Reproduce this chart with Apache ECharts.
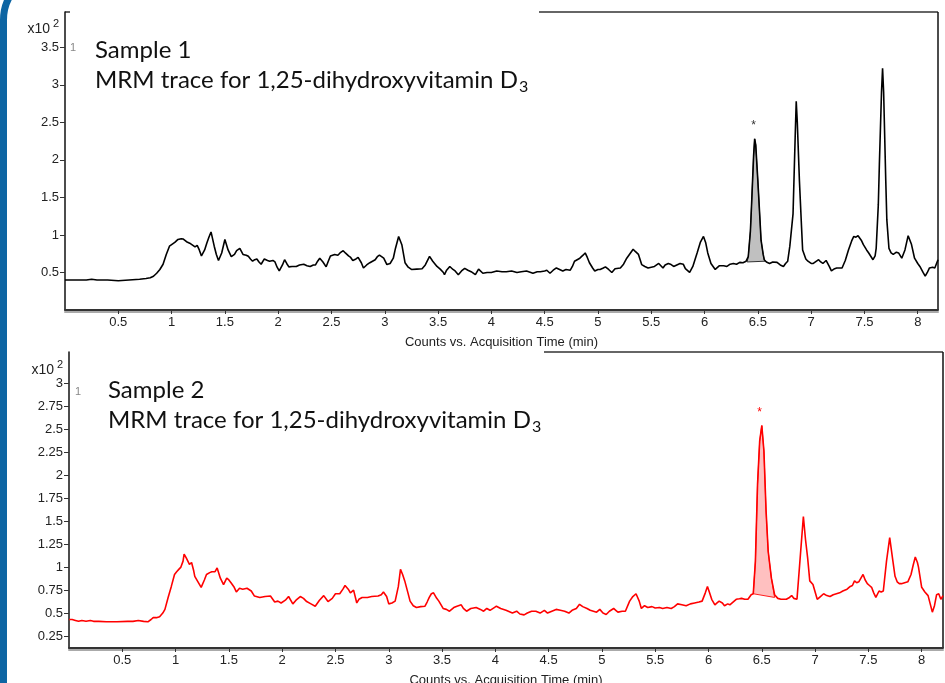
<!DOCTYPE html>
<html><head><meta charset="utf-8">
<script src="https://cdn.jsdelivr.net/npm/echarts@6/dist/echarts.min.js"></script>
<style>html,body{margin:0;padding:0;background:#fff;overflow:hidden}#c{width:945px;height:683px}</style>
</head><body><div id="c"></div>
<script>
// ---------- data ----------
const xTicks = [0.5,1,1.5,2,2.5,3,3.5,4,4.5,5,5.5,6,6.5,7,7.5,8];
const yTicksTop = [0.5,1,1.5,2,2.5,3,3.5];
const yTicksBottom = [0.25,0.5,0.75,1,1.25,1.5,1.75,2,2.25,2.5,2.75,3];

const timeTop = [0.00,0.10,0.20,0.25,0.30,0.40,0.50,0.60,0.70,0.76,0.80,0.83,0.86,0.89,0.92,0.95,0.98,1.01,1.03,1.06,1.09,1.11,1.14,1.17,1.19,1.22,1.24,1.26,1.28,1.31,1.33,1.35,1.37,1.40,1.42,1.44,1.47,1.50,1.53,1.56,1.59,1.61,1.64,1.67,1.70,1.72,1.74,1.76,1.78,1.80,1.82,1.84,1.87,1.90,1.92,1.95,1.97,1.99,2.01,2.04,2.06,2.08,2.10,2.13,2.17,2.20,2.24,2.27,2.30,2.33,2.35,2.37,2.39,2.42,2.45,2.47,2.49,2.51,2.53,2.56,2.58,2.61,2.63,2.66,2.68,2.70,2.73,2.75,2.78,2.80,2.83,2.86,2.91,2.93,2.95,2.97,2.99,3.02,3.05,3.08,3.10,3.13,3.16,3.19,3.22,3.25,3.30,3.35,3.38,3.42,3.45,3.49,3.52,3.55,3.56,3.58,3.61,3.64,3.66,3.69,3.72,3.75,3.78,3.81,3.85,3.88,3.92,3.96,4.00,4.05,4.10,4.14,4.19,4.24,4.28,4.33,4.39,4.43,4.46,4.50,4.52,4.55,4.58,4.61,4.64,4.67,4.70,4.74,4.76,4.78,4.83,4.86,4.88,4.90,4.92,4.95,4.97,5.00,5.02,5.05,5.07,5.10,5.13,5.16,5.21,5.24,5.27,5.30,5.33,5.35,5.38,5.41,5.44,5.47,5.50,5.53,5.57,5.61,5.63,5.66,5.68,5.71,5.74,5.77,5.80,5.82,5.86,5.89,5.93,5.96,5.99,6.01,6.03,6.06,6.10,6.14,6.18,6.21,6.24,6.27,6.30,6.33,6.36,6.39,6.41,6.43,6.44,6.46,6.47,6.48,6.50,6.52,6.53,6.55,6.56,6.58,6.61,6.64,6.68,6.71,6.74,6.76,6.78,6.80,6.83,6.85,6.86,6.87,6.89,6.91,6.92,6.95,6.97,7.00,7.02,7.05,7.07,7.09,7.11,7.14,7.17,7.19,7.22,7.24,7.29,7.32,7.35,7.38,7.40,7.42,7.44,7.47,7.49,7.52,7.54,7.58,7.60,7.61,7.63,7.64,7.66,7.67,7.68,7.70,7.71,7.73,7.75,7.77,7.80,7.82,7.85,7.88,7.91,7.94,7.97,8.00,8.02,8.05,8.07,8.09,8.11,8.14,8.16,8.19];
const countsTop = [0.40,0.40,0.40,0.41,0.40,0.40,0.39,0.40,0.41,0.42,0.43,0.45,0.49,0.54,0.61,0.74,0.85,0.88,0.90,0.94,0.95,0.945,0.91,0.89,0.87,0.84,0.86,0.80,0.72,0.80,0.89,0.97,1.04,0.85,0.74,0.66,0.76,0.94,0.80,0.71,0.74,0.79,0.82,0.74,0.73,0.715,0.68,0.65,0.67,0.68,0.64,0.61,0.68,0.66,0.65,0.66,0.64,0.57,0.52,0.60,0.67,0.62,0.575,0.58,0.58,0.60,0.61,0.59,0.58,0.60,0.60,0.65,0.69,0.64,0.575,0.65,0.72,0.73,0.74,0.73,0.76,0.79,0.76,0.72,0.70,0.66,0.68,0.70,0.63,0.56,0.60,0.63,0.67,0.71,0.73,0.71,0.69,0.605,0.62,0.69,0.82,0.98,0.87,0.63,0.57,0.54,0.545,0.55,0.60,0.715,0.65,0.58,0.545,0.50,0.47,0.53,0.58,0.54,0.52,0.47,0.52,0.555,0.53,0.51,0.47,0.545,0.49,0.50,0.50,0.52,0.51,0.51,0.52,0.50,0.51,0.52,0.49,0.51,0.51,0.52,0.53,0.49,0.53,0.56,0.54,0.52,0.54,0.53,0.58,0.65,0.69,0.73,0.76,0.70,0.63,0.56,0.52,0.54,0.54,0.56,0.575,0.54,0.50,0.55,0.56,0.61,0.69,0.75,0.81,0.78,0.74,0.605,0.58,0.56,0.57,0.58,0.62,0.56,0.60,0.62,0.61,0.58,0.60,0.62,0.61,0.55,0.50,0.58,0.76,0.90,0.98,0.90,0.76,0.62,0.54,0.59,0.59,0.58,0.61,0.62,0.61,0.635,0.63,0.65,0.71,1.05,1.37,2.05,2.28,2.20,1.72,1.20,0.93,0.74,0.67,0.64,0.62,0.64,0.635,0.60,0.58,0.62,0.65,0.85,1.28,2.30,2.78,2.50,1.72,1.10,0.80,0.68,0.65,0.62,0.62,0.65,0.67,0.64,0.62,0.66,0.58,0.52,0.55,0.56,0.56,0.66,0.80,0.92,0.98,0.97,0.99,0.93,0.87,0.80,0.76,0.67,0.72,0.82,1.40,1.94,2.90,3.22,2.90,1.72,1.20,0.82,0.76,0.74,0.77,0.76,0.69,0.80,0.99,0.88,0.69,0.62,0.58,0.50,0.45,0.50,0.56,0.57,0.56,0.67];

const timeBottom = [0.00,0.03,0.06,0.09,0.12,0.16,0.20,0.23,0.28,0.35,0.45,0.55,0.60,0.65,0.70,0.74,0.77,0.79,0.82,0.85,0.88,0.90,0.93,0.96,0.99,1.01,1.03,1.05,1.07,1.08,1.10,1.11,1.13,1.15,1.17,1.18,1.21,1.24,1.27,1.29,1.32,1.34,1.37,1.39,1.42,1.45,1.48,1.50,1.52,1.55,1.57,1.60,1.63,1.67,1.71,1.74,1.79,1.84,1.89,1.93,1.96,1.99,2.03,2.06,2.10,2.13,2.17,2.20,2.23,2.27,2.31,2.35,2.39,2.43,2.47,2.50,2.54,2.57,2.59,2.62,2.64,2.67,2.70,2.72,2.75,2.80,2.84,2.90,2.93,2.95,2.98,3.00,3.03,3.06,3.09,3.11,3.13,3.15,3.18,3.20,3.23,3.26,3.30,3.34,3.36,3.38,3.40,3.42,3.45,3.47,3.51,3.54,3.57,3.61,3.64,3.68,3.70,3.73,3.77,3.82,3.86,3.89,3.92,3.95,3.99,4.01,4.05,4.10,4.16,4.20,4.23,4.27,4.30,4.34,4.38,4.42,4.46,4.49,4.53,4.57,4.61,4.65,4.69,4.72,4.76,4.79,4.82,4.86,4.89,4.92,4.95,4.98,5.01,5.04,5.07,5.11,5.13,5.15,5.19,5.22,5.26,5.29,5.32,5.35,5.37,5.40,5.43,5.47,5.50,5.54,5.57,5.61,5.65,5.68,5.71,5.75,5.79,5.83,5.87,5.91,5.94,5.97,5.99,6.01,6.03,6.06,6.08,6.10,6.13,6.15,6.18,6.20,6.23,6.26,6.29,6.31,6.34,6.37,6.40,6.42,6.44,6.46,6.48,6.50,6.52,6.54,6.56,6.59,6.62,6.65,6.68,6.73,6.76,6.78,6.80,6.83,6.86,6.89,6.91,6.93,6.95,6.98,7.02,7.05,7.08,7.11,7.14,7.17,7.20,7.23,7.26,7.30,7.33,7.35,7.37,7.39,7.41,7.43,7.45,7.47,7.49,7.51,7.53,7.55,7.57,7.60,7.62,7.64,7.67,7.70,7.73,7.75,7.77,7.79,7.81,7.84,7.87,7.90,7.92,7.94,7.96,7.97,8.00,8.03,8.06,8.08,8.10,8.12,8.14,8.16,8.18,8.20];
const countsBottom = [0.43,0.43,0.42,0.41,0.42,0.41,0.42,0.41,0.41,0.405,0.405,0.41,0.41,0.42,0.41,0.405,0.43,0.45,0.45,0.46,0.50,0.54,0.67,0.79,0.92,0.95,0.975,1.00,1.065,1.14,1.10,1.08,1.03,1.05,0.96,0.90,0.84,0.78,0.86,0.92,0.94,0.95,0.95,0.99,0.88,0.81,0.88,0.86,0.83,0.78,0.73,0.77,0.76,0.77,0.74,0.685,0.67,0.68,0.685,0.62,0.63,0.61,0.64,0.68,0.60,0.64,0.68,0.66,0.625,0.60,0.575,0.64,0.69,0.625,0.66,0.71,0.71,0.76,0.80,0.76,0.72,0.75,0.61,0.65,0.67,0.67,0.68,0.685,0.70,0.73,0.68,0.60,0.61,0.63,0.79,0.975,0.92,0.85,0.72,0.63,0.58,0.56,0.57,0.575,0.62,0.67,0.71,0.72,0.66,0.63,0.55,0.54,0.52,0.56,0.575,0.59,0.55,0.52,0.55,0.56,0.54,0.52,0.55,0.53,0.56,0.575,0.55,0.53,0.50,0.52,0.49,0.48,0.50,0.52,0.52,0.50,0.53,0.50,0.52,0.54,0.53,0.52,0.50,0.53,0.55,0.595,0.57,0.55,0.53,0.52,0.51,0.54,0.50,0.485,0.52,0.55,0.53,0.51,0.52,0.52,0.63,0.68,0.71,0.63,0.55,0.58,0.56,0.57,0.555,0.56,0.55,0.56,0.55,0.57,0.60,0.59,0.58,0.60,0.61,0.62,0.63,0.72,0.79,0.72,0.65,0.59,0.61,0.63,0.61,0.58,0.60,0.59,0.62,0.65,0.655,0.66,0.65,0.65,0.70,0.71,1.065,1.90,2.37,2.54,2.26,1.61,1.17,0.88,0.70,0.66,0.65,0.65,0.67,0.69,0.66,0.65,1.10,1.55,1.30,1.10,0.85,0.81,0.65,0.68,0.71,0.69,0.68,0.70,0.71,0.72,0.74,0.76,0.79,0.80,0.85,0.83,0.84,0.88,0.92,0.86,0.82,0.80,0.78,0.72,0.67,0.74,0.73,0.74,1.065,1.32,1.065,0.90,0.84,0.82,0.82,0.83,0.84,0.92,1.02,1.11,1.05,1.00,0.78,0.73,0.69,0.60,0.51,0.58,0.70,0.71,0.65,0.69];

// integrated peak windows [start, end] and their baseline values
const peakTopWindow = [6.40, 6.57];
const peakTopBaseline = [0.64, 0.65];
const peakBottomWindow = [6.42, 6.62];
const peakBottomBaseline = [0.71, 0.67];
// asterisk markers above the integrated peaks
const starTop = [6.46, 2.45];
const starBottom = [6.48, 2.68];

// ---------- chart ----------
const FONT = '"Liberation Sans", Arial, sans-serif';
const TITLE_FONT = 'Lato, "Open Sans", sans-serif';
const zip = (a, b) => a.map((t, i) => [t, b[i]]);

function peakPolygon(idx, times, vals, win, base, fill, stroke) {
  const pts = [[win[0], base[0]]];
  times.forEach((t, i) => { if (t > win[0] && t < win[1]) pts.push([t, vals[i]]); });
  pts.push([win[1], base[1]]);
  return {
    type: 'custom', xAxisIndex: idx, yAxisIndex: idx, z: 1, silent: true,
    data: [[win[0], base[0]]],
    renderItem: (p, api) => ({
      type: 'polygon',
      shape: { points: pts.map(q => api.coord(q)) },
      style: { fill: fill, stroke: stroke, lineWidth: 1 }
    })
  };
}
function starText(idx, pos, color) {
  return {
    type: 'custom', xAxisIndex: idx, yAxisIndex: idx, z: 5, silent: true,
    data: [pos],
    renderItem: (p, api) => {
      const c = api.coord([api.value(0), api.value(1)]);
      return { type: 'text', x: c[0], y: c[1],
        style: { text: '*', fill: color, font: '12px ' + FONT, align: 'center', verticalAlign: 'middle' } };
    }
  };
}
function xAxisCfg(idx, max) {
  return {
    gridIndex: idx, type: 'value', min: 0, max: max,
    axisLine: { show: true, onZero: false, lineStyle: { color: '#333', width: 2, shadowColor: '#aaa', shadowOffsetY: 2 } },
    axisTick: { show: true, length: 4, customValues: xTicks, lineStyle: { color: '#333', width: 1 } },
    axisLabel: { customValues: xTicks, color: '#222', fontSize: 13, margin: 6, fontFamily: FONT },
    splitLine: { show: false },
    name: 'Counts vs. Acquisition Time (min)', nameLocation: 'middle', nameGap: 26,
    nameTextStyle: { color: '#222', fontSize: 13, fontFamily: FONT }
  };
}
function yAxisCfg(idx, min, max, ticks) {
  return {
    gridIndex: idx, type: 'value', min: min, max: max,
    axisLine: { show: true, onZero: false, lineStyle: { color: '#111', width: 1.5 } },
    axisTick: { show: true, length: 5, customValues: ticks, lineStyle: { color: '#333', width: 1 } },
    axisLabel: { customValues: ticks, color: '#222', fontSize: 13, margin: 6, fontFamily: FONT },
    splitLine: { show: false }
  };
}

function textWidth(txt, font) {
  const c = document.createElement('canvas').getContext('2d');
  c.font = font; return c.measureText(txt).width;
}
const SFONT = '24px ' + TITLE_FONT;
const mrm = 'MRM trace for 1,25-dihydroxyvitamin D';
const mrmW = textWidth(mrm, SFONT);

function label(x, y, sample) {
  return [
    { type: 'text', x: x, y: y, style: { text: sample, font: SFONT, fill: '#111', verticalAlign: 'middle' } },
    { type: 'text', x: x, y: y + 30, style: { text: mrm, font: SFONT, fill: '#111', verticalAlign: 'middle' } },
    { type: 'text', x: x + mrmW + 1, y: y + 37, style: { text: '3', font: '16px ' + TITLE_FONT, fill: '#111', verticalAlign: 'middle' } }
  ];
}
function exponent(xr, y) {
  return [
    { type: 'text', x: xr, y: y, style: { text: 'x10', font: '14px ' + FONT, fill: '#222', align: 'right', verticalAlign: 'middle' } },
    { type: 'text', x: xr + 3, y: y - 5, style: { text: '2', font: '11px ' + FONT, fill: '#222', verticalAlign: 'middle' } }
  ];
}
const lineStyle = { stroke: '#333', lineWidth: 1.5 };

const chart = echarts.init(document.getElementById('c'), null, { renderer: 'canvas' });
chart.setOption({
  animation: false,
  backgroundColor: '#fff',
  grid: [
    { left: 65, top: 12, width: 873, height: 298, containLabel: false, outerBoundsMode: 'none' },
    { left: 69, top: 352, width: 874, height: 296, containLabel: false, outerBoundsMode: 'none' }
  ],
  xAxis: [xAxisCfg(0, 8.19), xAxisCfg(1, 8.20)],
  yAxis: [yAxisCfg(0, 0, 3.97, yTicksTop), yAxisCfg(1, 0.12, 3.34, yTicksBottom)],
  series: [
    peakPolygon(0, timeTop, countsTop, peakTopWindow, peakTopBaseline, '#c0c0c0', '#333'),
    { type: 'line', xAxisIndex: 0, yAxisIndex: 0, data: zip(timeTop, countsTop), showSymbol: false, z: 3,
      lineStyle: { color: '#000', width: 1.6 } },
    starText(0, starTop, '#333'),
    peakPolygon(1, timeBottom, countsBottom, peakBottomWindow, peakBottomBaseline, '#ffc0c0', '#ff2020'),
    { type: 'line', xAxisIndex: 1, yAxisIndex: 1, data: zip(timeBottom, countsBottom), showSymbol: false, z: 3,
      lineStyle: { color: '#ff0000', width: 1.6 } },
    starText(1, starBottom, '#ff0000')
  ],
  graphic: [
    // frames
    { type: 'line', shape: { x1: 539, y1: 12, x2: 938, y2: 12 }, style: lineStyle },
    { type: 'line', shape: { x1: 65, y1: 12, x2: 70, y2: 12 }, style: lineStyle },
    { type: 'line', shape: { x1: 938, y1: 12, x2: 938, y2: 310 }, style: { stroke: '#111', lineWidth: 1.5 } },
    { type: 'line', shape: { x1: 544, y1: 352, x2: 943, y2: 352 }, style: lineStyle },
    { type: 'line', shape: { x1: 943, y1: 352, x2: 943, y2: 648 }, style: { stroke: '#111', lineWidth: 1.5 } },
    // exponent labels
    ...exponent(50, 29), ...exponent(54, 370),
    // small series index markers
    { type: 'text', x: 70, y: 48, style: { text: '1', font: '11px ' + FONT, fill: '#888', verticalAlign: 'middle' } },
    { type: 'text', x: 75, y: 392, style: { text: '1', font: '11px ' + FONT, fill: '#888', verticalAlign: 'middle' } },
    // sample captions
    ...label(95, 50, 'Sample 1'), ...label(108, 390, 'Sample 2'),
    // slide border
    { type: 'rect', z: 100, shape: { x: 3.5, y: -27, width: 2000, height: 3000, r: 47 },
      style: { fill: null, stroke: '#0d65a3', lineWidth: 7 } }
  ]
});
</script></body></html>
